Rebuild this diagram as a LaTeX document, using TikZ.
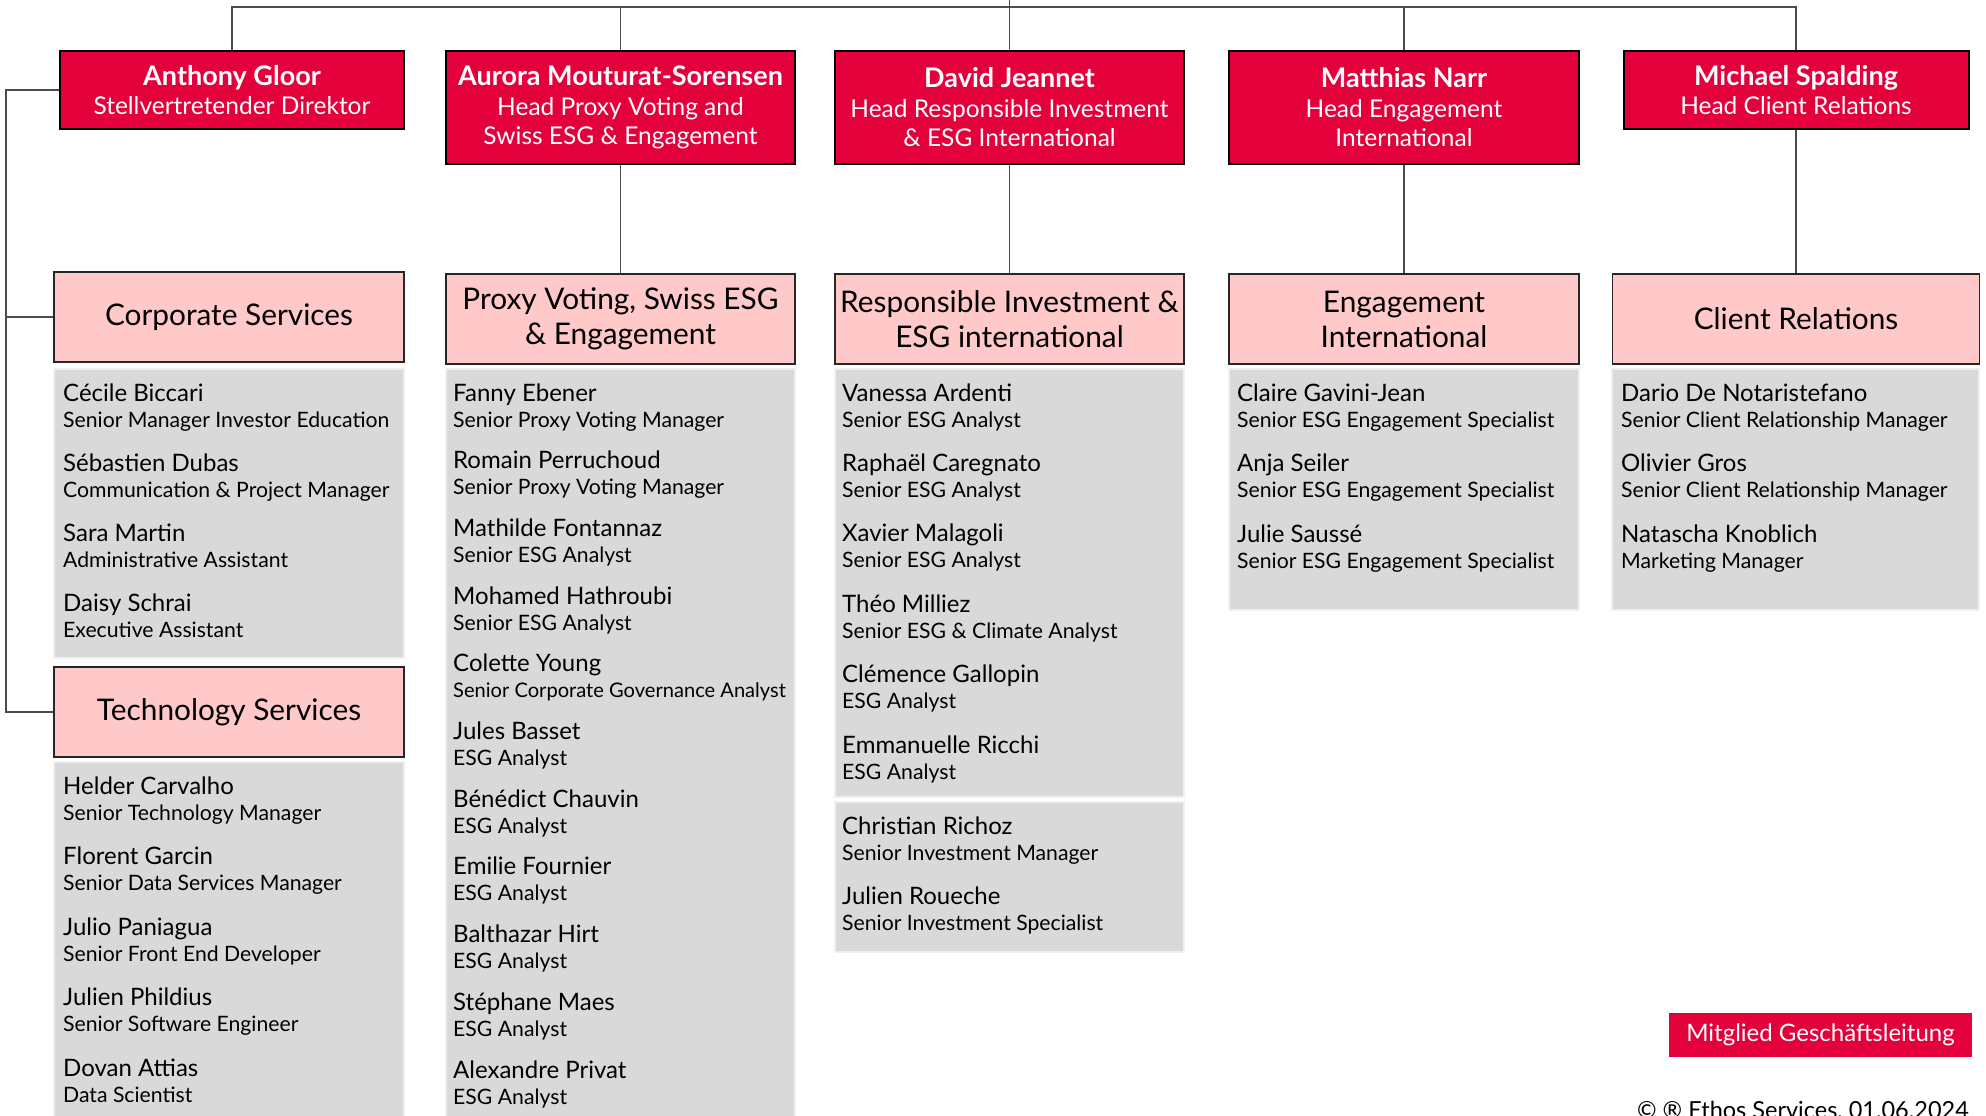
\documentclass[tikz,border=0pt]{standalone}
\usepackage{fontspec}
\setmainfont{Lato}
\definecolor{ethosred}{HTML}{E4003B}
\definecolor{deptpink}{HTML}{FFC9C9}
\definecolor{panelgray}{HTML}{D9D9D9}
\tikzset{
  headbox/.style={draw=black, line width=2pt, fill=ethosred, text=white, align=center, inner sep=0pt, font=\fontsize{24.5}{29.5}\selectfont},
  deptbox/.style={draw=black!85, line width=1.3pt, fill=deptpink, align=center, inner sep=0pt, minimum height=90pt, font=\fontsize{29.8}{35}\selectfont},
  panel/.style={fill=panelgray, draw=black!6, line width=1.5pt},
  link/.style={draw=black!70, line width=1.3pt},
  who/.style={anchor=base west, inner sep=0pt, font=\fontsize{24}{28}\selectfont},
  role/.style={anchor=base west, inner sep=0pt, font=\fontsize{21.2}{25}\selectfont},
}
\begin{document}
\begin{tikzpicture}[x=1pt, y=-1pt]
            \useasboundingbox (0,0) rectangle (1986,1116);
            % heads
            \node[headbox, minimum width=344pt, minimum height=78pt] (gloor) at (232,90) {{\bfseries\fontsize{27}{29.5}\selectfont Anthony Gloor}\\Stellvertretender Direktor};
            \node[headbox, minimum width=349pt, minimum height=113pt] (mouturat) at (620.5,107.5) {{\bfseries\fontsize{27}{29.5}\selectfont Aurora Mouturat-Sorensen}\\Head Proxy Voting and\\Swiss ESG \& Engagement};
            \node[headbox, minimum width=349pt, minimum height=113pt] (jeannet) at (1009.5,107.5) {{\bfseries\fontsize{27}{29.5}\selectfont David Jeannet}\\Head Responsible Investment\\\& ESG International};
            \node[headbox, minimum width=350pt, minimum height=113pt] (narr) at (1404,107.5) {{\bfseries\fontsize{27}{29.5}\selectfont Matthias Narr}\\Head Engagement\\International};
            \node[headbox, minimum width=345pt, minimum height=78pt] (spalding) at (1796,90) {{\bfseries\fontsize{27}{29.5}\selectfont Michael Spalding}\\Head Client Relations};
            % departments
            \node[deptbox, minimum width=350pt] (corp) at (229,317) {Corporate Services};
            \node[deptbox, minimum width=349pt] (proxy) at (620.5,319) {Proxy Voting, Swiss ESG\\\& Engagement};
            \node[deptbox, minimum width=349pt] (ri) at (1009.5,319) {Responsible Investment \&\\ESG international};
            \node[deptbox, minimum width=350pt] (engint) at (1404,319) {Engagement\\International};
            \node[deptbox, minimum width=367pt] (client) at (1796,319) {Client Relations};
            \node[deptbox, minimum width=350pt] (tech) at (229,712) {Technology Services};
            % connectors
            \coordinate (bar) at (0,7);
            \coordinate (top) at (1009.5,0);
            \coordinate (spine) at (6,90);
            \draw[link] (gloor.north) |- (bar -| spalding.north) -- (spalding.north);
            \draw[link] (mouturat.north) -- (mouturat.north |- bar);
            \draw[link] (narr.north) -- (narr.north |- bar);
            \draw[link] (top) -- (jeannet.north);
            \draw[link] (mouturat) -- (proxy);
            \draw[link] (jeannet) -- (ri);
            \draw[link] (narr) -- (engint);
            \draw[link] (spalding) -- (client);
            \draw[link] (gloor.west) -- (spine) |- (tech.west);
            \draw[link] (spine) |- (corp.west);
            % panels
            \draw[panel] (54,369) rectangle (404,658);
            \draw[panel] (54,762) rectangle (404,1130);
            \draw[panel] (446,369) rectangle (795,1130);
            \draw[panel] (835,369) rectangle (1184,797);
            \draw[panel] (835,802) rectangle (1184,952);
            \draw[panel] (1229,369) rectangle (1579,610);
            \draw[panel] (1612,369) rectangle (1979,610);
            % members
            \foreach \n/\t [count=\i] in {Cécile Biccari/Senior Manager Investor Education, Sébastien Dubas/Communication \& Project Manager, Sara Martin/Administrative Assistant, Daisy Schrai/Executive Assistant}
              {\node[who] (corpn\i) at (63,{401+70*(\i-1)}) {\n};
               \node[role] (corpr\i) at (63,{427+70*(\i-1)}) {\t};}
            \foreach \n/\t [count=\i] in {Helder Carvalho/Senior Technology Manager, Florent Garcin/Senior Data Services Manager, Julio Paniagua/Senior Front End Developer, Julien Phildius/Senior Software Engineer, Dovan Attias/Data Scientist}
              {\node[who] (techn\i) at (63,{794+70.5*(\i-1)}) {\n};
               \node[role] (techr\i) at (63,{820+70.5*(\i-1)}) {\t};}
            \foreach \n/\t [count=\i] in {Fanny Ebener/Senior Proxy Voting Manager, Romain Perruchoud/Senior Proxy Voting Manager, Mathilde Fontannaz/Senior ESG Analyst, Mohamed Hathroubi/Senior ESG Analyst, Colette Young/{\fontsize{20.1}{25}\selectfont Senior Corporate Governance Analyst}, Jules Basset/ESG Analyst, Bénédict Chauvin/ESG Analyst, Emilie Fournier/ESG Analyst, Balthazar Hirt/ESG Analyst, Stéphane Maes/ESG Analyst, Alexandre Privat/ESG Analyst}
              {\node[who] (proxyn\i) at (453,{401+67.7*(\i-1)}) {\n};
               \node[role] (proxyr\i) at (453,{427+67.7*(\i-1)}) {\t};}
            \foreach \n/\t [count=\i] in {Vanessa Ardenti/Senior ESG Analyst, Raphaël Caregnato/Senior ESG Analyst, Xavier Malagoli/Senior ESG Analyst, Théo Milliez/Senior ESG \& Climate Analyst, Clémence Gallopin/ESG Analyst, Emmanuelle Ricchi/ESG Analyst}
              {\node[who] (rin\i) at (842,{401+70.4*(\i-1)}) {\n};
               \node[role] (rir\i) at (842,{427+70.4*(\i-1)}) {\t};}
            \foreach \n/\t [count=\i] in {Christian Richoz/Senior Investment Manager, Julien Roueche/Senior Investment Specialist}
              {\node[who] (invn\i) at (842,{834+70*(\i-1)}) {\n};
               \node[role] (invr\i) at (842,{860+70*(\i-1)}) {\t};}
            \foreach \n/\t [count=\i] in {Claire Gavini-Jean/Senior ESG Engagement Specialist, Anja Seiler/Senior ESG Engagement Specialist, Julie Saussé/Senior ESG Engagement Specialist}
              {\node[who] (engn\i) at (1237,{401+70.5*(\i-1)}) {\n};
               \node[role] (engr\i) at (1237,{427+70.5*(\i-1)}) {\t};}
            \foreach \n/\t [count=\i] in {Dario De Notaristefano/Senior Client Relationship Manager, Olivier Gros/Senior Client Relationship Manager, Natascha Knoblich/Marketing Manager}
              {\node[who] (clientn\i) at (1621,{401+70.5*(\i-1)}) {\n};
               \node[role] (clientr\i) at (1621,{427+70.5*(\i-1)}) {\t};}
            % legend
            \node[fill=ethosred, text=white, minimum width=303pt, minimum height=44pt, inner sep=0pt, font=\fontsize{24}{28}\selectfont] (legend) at (1820.5,1035) {Mitglied Geschäftsleitung};
            \node[anchor=base east, inner sep=0pt, font=\fontsize{23.5}{28}\selectfont] (copy) at (1969,1118) {© ® Ethos Services, 01.06.2024};
        \end{tikzpicture}
\end{document}
